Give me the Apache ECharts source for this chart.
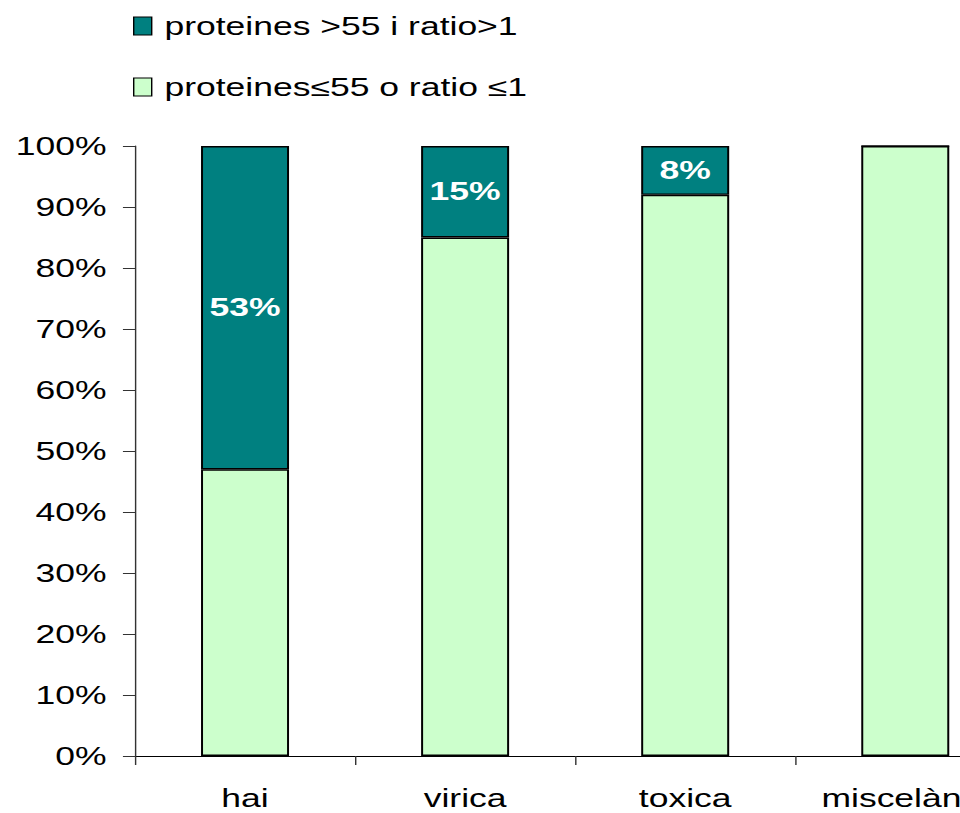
<!DOCTYPE html>
<html>
<head>
<meta charset="utf-8">
<script src="https://cdn.jsdelivr.net/npm/echarts@6/dist/echarts.min.js"></script>
<style>
  html, body { margin: 0; padding: 0; background: #fff; overflow: hidden; width: 960px; height: 813px; }
  #wrap { width: 960px; height: 813px; overflow: hidden; position: relative; }
  #chart { width: 715px; height: 813px; transform: scaleX(1.42); transform-origin: 0 0; }
</style>
</head>
<body>
<div id="wrap"><div id="chart"></div></div>
<script>
const categories = ['hai', 'virica', 'toxica', 'miscelània'];
const lowName = 'proteines≤55 o ratio ≤1';
const highName = 'proteines >55 i ratio>1';
const lowValues = [47, 85, 92, 100];
const highValues = [53, 15, 8, 0];

const S = 1.42;
const FONT = 'Liberation Sans, Arial, sans-serif';

const chart = echarts.init(document.getElementById('chart'), null, { renderer: 'svg' });
chart.setOption({
  animation: false,
  backgroundColor: '#fff',
  textStyle: { fontFamily: FONT },
  legend: {
    orient: 'vertical',
    left: 133 / S,
    top: 11,
    padding: 0,
    itemWidth: 18 / S,
    itemHeight: 18,
    itemGap: 31,
    icon: 'rect',
    data: [highName, lowName],
    textStyle: { fontFamily: FONT, fontSize: 25, color: '#000', lineHeight: 30, padding: [0, 0, 0, 4] },
    itemStyle: { borderColor: '#000', borderWidth: 1 }
  },
  grid: { left: 135 / S, right: 0, top: 146, height: 610, containLabel: false },
  xAxis: {
    type: 'category',
    data: categories,
    axisLine: { lineStyle: { color: '#000', width: 1 } },
    axisTick: { show: true, length: 9, lineStyle: { color: '#333' } },
    axisLabel: { interval: 0, fontFamily: FONT, fontSize: 25, color: '#000', margin: 30 }
  },
  yAxis: {
    type: 'value',
    min: 0,
    max: 100,
    interval: 10,
    axisLine: { show: true, lineStyle: { color: '#333', width: 1 } },
    axisTick: { show: true, length: 8.5, lineStyle: { color: '#333' } },
    splitLine: { show: false },
    axisLabel: { fontFamily: FONT, fontSize: 25, color: '#000', margin: 20, formatter: '{value}%' }
  },
  series: [
    {
      name: lowName,
      type: 'bar',
      stack: 'total',
      barWidth: 88 / S,
      data: lowValues,
      itemStyle: { color: '#CCFFCC', borderColor: '#000', borderWidth: 1.4 }
    },
    {
      name: highName,
      type: 'bar',
      stack: 'total',
      barWidth: 88 / S,
      data: highValues,
      itemStyle: { color: '#008080', borderColor: '#000', borderWidth: 1.4 },
      label: {
        show: true,
        position: 'inside',
        color: '#fff',
        fontWeight: 'bold',
        fontSize: 25,
        fontFamily: FONT,
        formatter: p => (p.value > 0 ? p.value + '%' : '')
      }
    }
  ]
});
</script>
</body>
</html>
